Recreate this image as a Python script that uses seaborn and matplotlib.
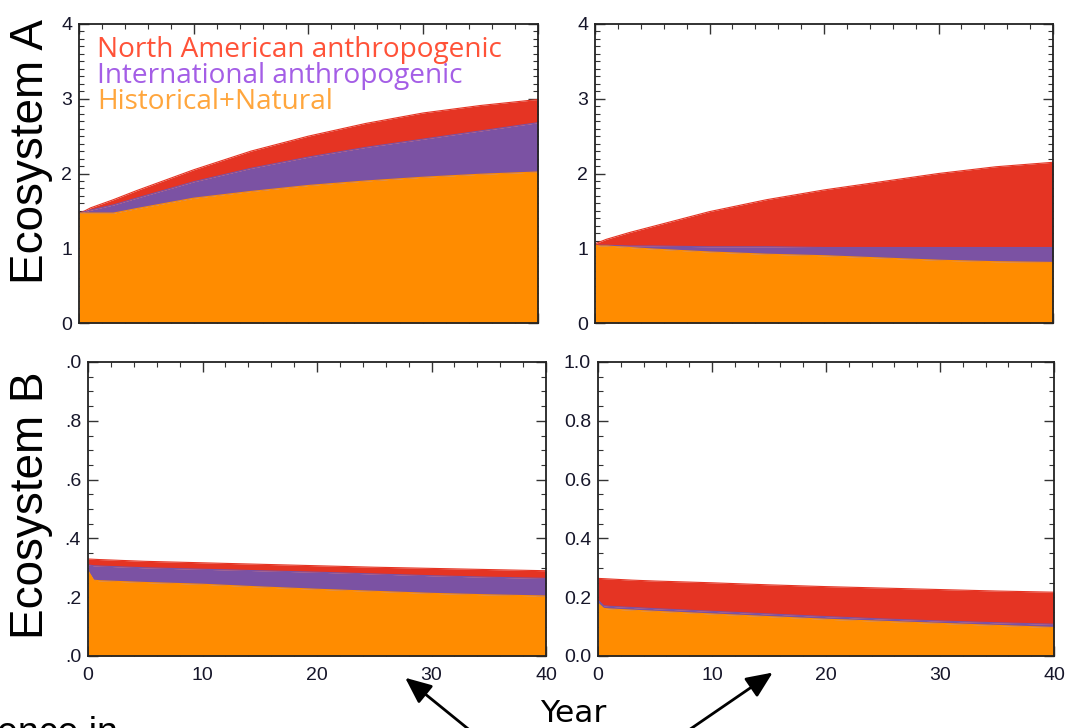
import numpy as np
import pandas as pd
import matplotlib
matplotlib.use("Agg")
import matplotlib.pyplot as plt
from matplotlib.ticker import MultipleLocator, FixedLocator, FixedFormatter
from matplotlib.patches import FancyArrowPatch
import seaborn as sns

# ---------------- data (cumulative stacked tops) ----------------
years = [0, 0.5, 1, 3, 5, 10, 15, 20, 25, 30, 35, 40]

# Ecosystem A, left panel
a_left_natural = [1.47, 1.47, 1.47, 1.47, 1.53, 1.67, 1.76, 1.84, 1.90, 1.95, 1.99, 2.02]
a_left_intl    = [1.47, 1.49, 1.51, 1.58, 1.67, 1.89, 2.07, 2.22, 2.35, 2.46, 2.57, 2.68]
a_left_total   = [1.47, 1.50, 1.54, 1.65, 1.77, 2.05, 2.30, 2.50, 2.67, 2.81, 2.91, 2.99]

# Ecosystem A, right panel
a_right_natural = [1.04, 1.03, 1.03, 1.01, 0.99, 0.95, 0.92, 0.90, 0.87, 0.84, 0.82, 0.81]
a_right_intl    = [1.04, 1.04, 1.04, 1.03, 1.03, 1.02, 1.02, 1.01, 1.01, 1.01, 1.01, 1.01]
a_right_total   = [1.06, 1.09, 1.12, 1.21, 1.29, 1.49, 1.65, 1.78, 1.89, 2.00, 2.09, 2.15]

# Ecosystem B, left panel
b_left_natural = [0.290, 0.258, 0.256, 0.253, 0.250, 0.244, 0.235, 0.227, 0.220, 0.213, 0.208, 0.204]
b_left_intl    = [0.310, 0.307, 0.306, 0.303, 0.300, 0.295, 0.290, 0.285, 0.279, 0.273, 0.268, 0.264]
b_left_total   = [0.330, 0.329, 0.328, 0.325, 0.322, 0.317, 0.312, 0.307, 0.302, 0.298, 0.294, 0.290]

# Ecosystem B, right panel
b_right_natural = [0.180, 0.162, 0.160, 0.156, 0.152, 0.143, 0.134, 0.125, 0.118, 0.111, 0.104, 0.097]
b_right_intl    = [0.190, 0.171, 0.169, 0.165, 0.161, 0.152, 0.143, 0.134, 0.126, 0.119, 0.113, 0.108]
b_right_total   = [0.264, 0.263, 0.262, 0.258, 0.255, 0.249, 0.242, 0.236, 0.231, 0.226, 0.221, 0.217]

series_names = ["North American anthropogenic", "International anthropogenic", "Historical+Natural"]
row_labels = ["Ecosystem A", "Ecosystem B"]
x_ticks = [0, 10, 20, 30, 40]
x_tick_labels = ["0", "10", "20", "30", "40"]
a_ticks = [0, 1, 2, 3, 4]
a_tick_labels = ["0", "1", "2", "3", "4"]
b_ticks = [0.0, 0.2, 0.4, 0.6, 0.8, 1.0]
b_left_tick_labels = [".0", ".2", ".4", ".6", ".8", ".0"]
b_right_tick_labels = ["0.0", "0.2", "0.4", "0.6", "0.8", "1.0"]
x_title = "Year"
cut_text = "ence in"

# ---------------- style ----------------
sns.set_theme(style="ticks")
plt.rcParams["font.family"] = ["Liberation Sans", "DejaVu Sans"]

fill_colors = {"natural": "#FF8C00", "intl": "#7B52A3", "na": "#E53423"}
legend_colors = ["#FF5238", "#A45EE6", "#FFA63D"]

W, H = 1065, 728
fig = plt.figure(figsize=(W / 100, H / 100), dpi=100)


def px_axes(left, right, top, bottom):
    return fig.add_axes([left / W, (H - bottom) / H, (right - left) / W, (bottom - top) / H])


panels = [
    dict(box=(79, 538, 24, 323), nat=a_left_natural, intl=a_left_intl, tot=a_left_total,
         ylim=(0, 4), yt=a_ticks, ytl=a_tick_labels, ymin=0.1, xlab=False),
    dict(box=(595, 1053, 24, 323), nat=a_right_natural, intl=a_right_intl, tot=a_right_total,
         ylim=(0, 4), yt=a_ticks, ytl=a_tick_labels, ymin=0.1, xlab=False),
    dict(box=(88, 546, 362, 656), nat=b_left_natural, intl=b_left_intl, tot=b_left_total,
         ylim=(0, 1), yt=b_ticks, ytl=b_left_tick_labels, ymin=0.05, xlab=True),
    dict(box=(598, 1054, 362, 656), nat=b_right_natural, intl=b_right_intl, tot=b_right_total,
         ylim=(0, 1), yt=b_ticks, ytl=b_right_tick_labels, ymin=0.05, xlab=True),
]

axes = []
for p in panels:
    ax = px_axes(*p["box"])
    df = pd.DataFrame({"year": years, "natural": p["nat"], "intl": p["intl"], "total": p["tot"]})
    ax.fill_between(df["year"], 0, df["natural"], color=fill_colors["natural"], lw=0, zorder=1)
    ax.fill_between(df["year"], df["natural"], df["intl"], color=fill_colors["intl"], lw=0, zorder=1)
    ax.fill_between(df["year"], df["intl"], df["total"], color=fill_colors["na"], lw=0, zorder=1)
    sns.lineplot(data=df, x="year", y="total", color=fill_colors["na"], lw=0.8, ax=ax, zorder=2)
    sns.lineplot(data=df, x="year", y="intl", color=fill_colors["intl"], lw=0.8, ax=ax, zorder=2)
    sns.lineplot(data=df, x="year", y="natural", color=fill_colors["natural"], lw=0.8, ax=ax, zorder=2)

    ax.set_xlim(0, 40)
    ax.set_ylim(*p["ylim"])
    ax.xaxis.set_major_locator(FixedLocator(x_ticks))
    ax.xaxis.set_minor_locator(MultipleLocator(2))
    ax.yaxis.set_major_locator(FixedLocator(p["yt"]))
    ax.yaxis.set_major_formatter(FixedFormatter(p["ytl"]))
    ax.yaxis.set_minor_locator(MultipleLocator(p["ymin"]))
    if p["xlab"]:
        ax.xaxis.set_major_formatter(FixedFormatter(x_tick_labels))
    else:
        ax.set_xticklabels([])
    ax.set_xlabel("")
    ax.set_ylabel("")
    ax.tick_params(which="both", direction="in", top=True, right=True,
                   color="#333333", labelcolor="#16162a", labelsize=14)
    ax.tick_params(which="major", length=7, width=1.0)
    ax.tick_params(which="minor", length=3.5, width=0.8)
    ax.tick_params(axis="x", pad=8)
    ax.tick_params(axis="y", pad=5)
    for s in ax.spines.values():
        s.set_color("#222222")
        s.set_linewidth(1.3)
        s.set_zorder(5)
    ax.set_facecolor("white")
    axes.append(ax)

# legend as coloured text in the first panel
ax0 = axes[0]
for i, (name, col) in enumerate(zip(series_names, legend_colors)):
    ax0.text(18 / 459, 1 - (26 + 26 * i) / 299, name, transform=ax0.transAxes,
             color=col, fontsize=20.2, family=["Open Sans", "DejaVu Sans"],
             ha="left", va="center", zorder=6)

# row labels
fig.text(31 / W, 1 - 151 / H, row_labels[0], rotation=90, ha="center", va="center",
         fontsize=33, color="black")
fig.text(31 / W, 1 - 505 / H, row_labels[1], rotation=90, ha="center", va="center",
         fontsize=33, color="black")

# x title
fig.text(573 / W, 1 - 714 / H, x_title, ha="center", va="center", fontsize=22.5,
         family=["DejaVu Sans"], color="black")

# cut-off text at bottom left (cropped by the figure edge, as in the reference)
fig.text(-3 / W, 1 - 744 / H, cut_text, ha="left", va="baseline", fontsize=27, color="black")

# arrows
for tail, head in [((472, 732), (403, 676)), ((686, 732), (775, 671))]:
    fig.add_artist(FancyArrowPatch(
        (tail[0] / W, 1 - tail[1] / H), (head[0] / W, 1 - head[1] / H),
        transform=fig.transFigure,
        arrowstyle="-|>,head_length=16,head_width=7", color="black", lw=2.0,
        mutation_scale=1))

fig.savefig("out.png", dpi=100, facecolor="white")
